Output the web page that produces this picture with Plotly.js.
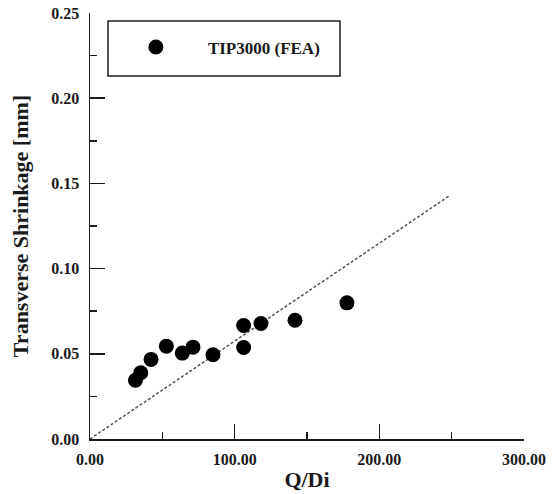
<!DOCTYPE html>
<html>
<head>
<meta charset="utf-8">
<script src="https://cdn.plot.ly/plotly-3.0.1.min.js"></script>
<style>html,body{margin:0;padding:0;background:#fff;}#chart{width:554px;height:494px;}</style>
</head>
<body>
<div id="chart"></div>
<script>
// Data
const qdi = [31.4, 35.1, 42.2, 52.8, 63.8, 71.2, 85.0, 106.2, 106.2, 118.2, 141.7, 177.6];
const shrinkage = [0.0345, 0.0389, 0.0467, 0.0545, 0.0504, 0.0539, 0.0494, 0.0666, 0.0537, 0.0678, 0.0697, 0.0799];
const fitX = [0, 248];
const fitY = [0, 0.1425];
const seriesName = 'TIP3000 (FEA)';
const xTitle = 'Q/Di';
const yTitle = 'Transverse Shrinkage [mm]';

const FONT = 'Liberation Serif, Times New Roman, serif';
const INK = '#1a1a1a';

const traces = [
  {
    x: fitX, y: fitY, type: 'scatter', mode: 'lines',
    line: {color: '#555555', width: 1.5, dash: '3px,2px'},
    showlegend: false, hoverinfo: 'skip'
  },
  {
    x: qdi, y: shrinkage, type: 'scatter', mode: 'markers', name: seriesName,
    marker: {color: '#000000', size: 15, symbol: 'circle'}
  }
];

const axisCommon = {
  showgrid: false, zeroline: false, showline: true,
  linecolor: INK, linewidth: 1.5,
  ticks: 'inside', ticklen: 15, tickwidth: 1.5, tickcolor: INK,
  tickformat: '.2f',
  tickfont: {family: FONT, size: 16, color: INK, weight: 'bold'},
  fixedrange: true
};

const layout = {
  width: 554, height: 494,
  margin: {l: 90, r: 30, t: 13, b: 55},
  paper_bgcolor: '#ffffff', plot_bgcolor: '#ffffff',
  font: {family: FONT, color: INK},
  xaxis: Object.assign({}, axisCommon, {
    range: [0, 300], tick0: 0, dtick: 100,
    ticklabelstandoff: 5,
    minor: {dtick: 50, ticks: 'inside', ticklen: 7, tickwidth: 1.5, tickcolor: INK},
    title: {text: xTitle, font: {family: FONT, size: 22, color: INK, weight: 'bold'}, standoff: 5}
  }),
  yaxis: Object.assign({}, axisCommon, {
    range: [0, 0.25], tick0: 0, dtick: 0.05,
    ticklabelstandoff: 6,
    minor: {dtick: 0.025, ticks: 'inside', ticklen: 7, tickwidth: 1.5, tickcolor: INK},
    title: {text: yTitle, font: {family: FONT, size: 22, color: INK, weight: 'bold'}, standoff: 16}
  }),
  showlegend: true,
  legend: {
    x: 0.032, y: 0.919, xanchor: 'left', yanchor: 'middle',
    bgcolor: 'rgba(0,0,0,0)', borderwidth: 0,
    itemwidth: 94,
    font: {family: FONT, size: 17, color: INK, weight: 'bold'}
  },
  shapes: [{
    type: 'rect', xref: 'paper', yref: 'paper',
    x0: 0.0415, x1: 0.576, y0: 0.852, y1: 0.981,
    line: {color: INK, width: 1.5}, fillcolor: 'rgba(0,0,0,0)'
  }]
};

Plotly.newPlot('chart', traces, layout, {displayModeBar: false, staticPlot: true});
</script>
</body>
</html>
